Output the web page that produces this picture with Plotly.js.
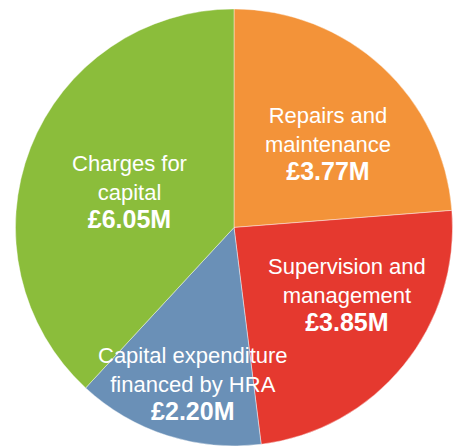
<!DOCTYPE html>
<html>
<head>
<meta charset="utf-8">
<script src="https://cdn.plot.ly/plotly-3.0.1.min.js"></script>
<style>
  html, body { margin: 0; padding: 0; background: #ffffff; }
  #grafico { width: 454px; height: 446px; }
</style>
</head>
<body>
<div id="grafico"></div>
<script>
// --- datos del gráfico ---
const categorias = [
    'Repairs and maintenance',
    'Supervision and management',
    'Capital expenditure financed by HRA',
    'Charges for capital'
];
const etiquetas = [
    'Repairs and<br>maintenance',
    'Supervision and<br>management',
    'Capital expenditure<br>financed by HRA',
    'Charges for<br>capital'
];
const valores = [3.77, 3.85, 2.20, 6.05];
const colores = ['#F39339', '#E5392F', '#6A90B7', '#8BBD3B'];

// posición de cada texto (coordenadas de papel)
const posTexto = [
    { x: 328 / 454, y: 1 - 144 / 446 },
    { x: 347 / 454, y: 1 - 295 / 446 },
    { x: 193 / 454, y: 1 - 384 / 446 },
    { x: 129 / 454, y: 1 - 192 / 446 }
];

const fuente = 'Liberation Sans, Arial, Helvetica, sans-serif';

const trazo = {
    type: 'pie',
    labels: categorias,
    values: valores,
    sort: false,
    direction: 'clockwise',
    rotation: 0,
    textinfo: 'none',
    hoverinfo: 'label+value',
    marker: { colors: colores, line: { color: 'rgba(255,255,255,0.6)', width: 0.7 } },
    domain: { x: [15 / 454, 453 / 454], y: [0, 0.98] }
};

const anotaciones = valores.map((v, i) => ({
    xref: 'paper', yref: 'paper',
    x: posTexto[i].x, y: posTexto[i].y,
    xanchor: 'center', yanchor: 'middle',
    showarrow: false,
    align: 'center',
    text: etiquetas[i] + '<br><b><span style="font-size:25px">£' + v.toFixed(2) + 'M</span></b>',
    font: { family: fuente, size: 22, color: '#ffffff' }
}));

const layout = {
    width: 454,
    height: 446,
    margin: { l: 0, r: 0, t: 0, b: 0 },
    showlegend: false,
    paper_bgcolor: '#ffffff',
    plot_bgcolor: '#ffffff',
    annotations: anotaciones
};

Plotly.newPlot('grafico', [trazo], layout, { displayModeBar: false, staticPlot: true });
</script>
</body>
</html>
